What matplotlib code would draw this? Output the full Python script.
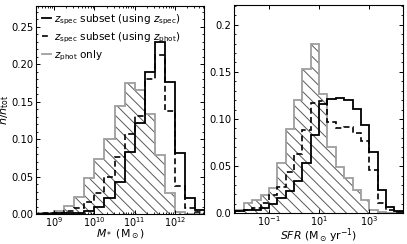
import numpy as np
import matplotlib
matplotlib.use('Agg')
import matplotlib.pyplot as plt
from matplotlib.ticker import MultipleLocator, FixedLocator, FixedFormatter, FormatStrFormatter

# bin edges in log10 (stellar mass: 0.25 dex bins, SFR: 1/3 dex bins)
mass_logedges = np.arange(8.5, 12.76, 0.25)
sfr_logedges = np.arange(-8, 14) / 3.

# n/n_tot per bin, stellar mass
mass_spec = [0.0, 0.0005, 0.001, 0.001, 0.002, 0.0045, 0.009, 0.021, 0.043,
             0.083, 0.122, 0.190, 0.230, 0.177, 0.082, 0.022, 0.005]
mass_spec_phot = [0.0, 0.001, 0.002, 0.0045, 0.008, 0.0165, 0.0285, 0.050, 0.0765,
                  0.107, 0.131, 0.181, 0.213, 0.137, 0.038, 0.008, 0.003]
mass_phot_only = [0.001, 0.002, 0.0045, 0.0107, 0.0222, 0.0476, 0.074, 0.0997, 0.144,
                  0.1745, 0.166, 0.1335, 0.079, 0.0285, 0.003, 0.0, 0.0]

# n/n_tot per bin, SFR
sfr_spec = [0.001, 0.002, 0.003, 0.004, 0.006, 0.010, 0.016, 0.024, 0.034, 0.053, 0.083,
            0.116, 0.121, 0.122, 0.120, 0.111, 0.094, 0.065, 0.025, 0.007, 0.002]
sfr_spec_phot = [0.001, 0.002, 0.0035, 0.006, 0.011, 0.019, 0.028, 0.044, 0.063, 0.088, 0.117,
                 0.119, 0.097, 0.090, 0.092, 0.085, 0.077, 0.046, 0.011, 0.003, 0.001]
sfr_phot_only = [0.002, 0.003, 0.011, 0.014, 0.019, 0.027, 0.053, 0.089, 0.120, 0.153, 0.180,
                 0.127, 0.070, 0.049, 0.037, 0.025, 0.014, 0.004, 0.001, 0.0, 0.0]

labels = [r'$z_{\rm spec}$ subset (using $z_{\rm spec}$)',
          r'$z_{\rm spec}$ subset (using $z_{\rm phot}$)',
          r'$z_{\rm phot}$ only']

plt.rcParams['font.family'] = 'DejaVu Sans'
plt.rcParams['font.size'] = 8
plt.rcParams['hatch.linewidth'] = 0.7
plt.rcParams['axes.linewidth'] = 0.8

fig = plt.figure(figsize=(4.07, 2.44), dpi=100)
ax1 = fig.add_axes([36/407., 1 - 214/244., 168/407., 208/244.])
ax2 = fig.add_axes([234/407., 1 - 213.3/244., 169/407., 208.3/244.])

gray = '0.62'
hatchcol = '0.35'


def draw(ax, logedges, spec, spec_phot, phot_only):
    edges = 10**logedges
    ax.stairs(phot_only, edges, fill=True, facecolor='none', edgecolor=hatchcol,
              hatch='\\\\\\', linewidth=0)
    ax.stairs(phot_only, edges, color=gray, linewidth=1.3, label=labels[2])
    ax.stairs(spec_phot, edges, color='k', linestyle=(0, (3.5, 2)), linewidth=1.2,
              label=labels[1])
    ax.stairs(spec, edges, color='k', linewidth=1.3, label=labels[0])
    ax.set_xscale('log')
    ax.tick_params(which='both', direction='in', top=True, right=True)
    ax.tick_params(axis='y', labelsize=7.2, pad=2)
    ax.tick_params(axis='x', labelsize=7, pad=0.8)
    ax.tick_params(which='major', length=3, width=0.7)
    ax.tick_params(which='minor', length=1.6, width=0.6)
    ax.yaxis.set_minor_locator(MultipleLocator(0.01))


draw(ax1, mass_logedges, mass_spec, mass_spec_phot, mass_phot_only)
ax1.set_xlim(10**8.55, 10**12.72)
ax1.set_ylim(0, 0.278)
ax1.yaxis.set_major_locator(MultipleLocator(0.05))
ax1.yaxis.set_major_formatter(FormatStrFormatter('%.2f'))
ax1.set_xlabel(r'$M_*$ (M$_\odot$)', fontsize=7.8)
ax1.xaxis.set_label_coords(0.5, -0.064)
ax1.set_ylabel(r'$n/n_{\rm tot}$', fontsize=8)
ax1.yaxis.set_label_coords(-0.148, 0.5)
h, l = ax1.get_legend_handles_labels()
ax1.legend(h[::-1], l[::-1], loc='upper left', frameon=False, fontsize=7.5,
           handlelength=0.8, handletextpad=0.3, borderaxespad=0.2, labelspacing=0.35)

draw(ax2, sfr_logedges, sfr_spec, sfr_spec_phot, sfr_phot_only)
ax2.set_xlim(10**-2.39, 10**4.34)
ax2.set_ylim(0, 0.221)
ax2.yaxis.set_major_locator(FixedLocator([0.0, 0.05, 0.10, 0.15, 0.2]))
ax2.yaxis.set_major_formatter(FixedFormatter(['0.0', '0.05', '0.10', '0.15', '0.2']))
ax2.set_xlabel(r'$SFR$ (M$_\odot\,$yr$^{-1}$)', fontsize=7.8)
ax2.xaxis.set_label_coords(0.5, -0.064)

fig.savefig('out.png', dpi=100)
